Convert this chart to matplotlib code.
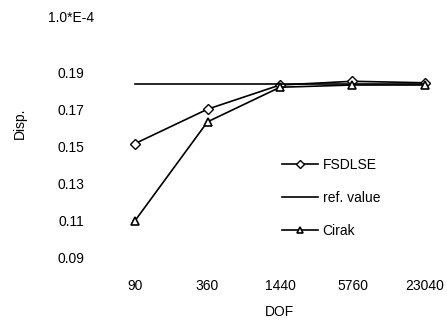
import matplotlib
matplotlib.use("Agg")
import matplotlib.pyplot as plt

# === Data ===
dof = ["90", "360", "1440", "5760", "23040"]
fsdlse = [0.1515, 0.1700, 0.1830, 0.1850, 0.1842]
ref_value = [0.1833, 0.1833, 0.1833, 0.1833, 0.1833]
cirak = [0.1100, 0.1632, 0.1818, 0.1830, 0.1830]
yticks = [0.09, 0.11, 0.13, 0.15, 0.17, 0.19]

# === Styling ===
plt.rcParams.update({
    "font.family": ["Liberation Sans", "DejaVu Sans"],
    "font.size": 10,
})

fig = plt.figure(figsize=(4.47, 3.2), dpi=100)
ax = fig.add_axes([0.2696, 0.194, 0.7136, 0.581])

x = list(range(len(dof)))
ax.plot(x, fsdlse, color="k", lw=1.2, marker="D", markersize=5,
        markerfacecolor="white", markeredgecolor="k", markeredgewidth=1.0,
        label="FSDLSE")
ax.plot(x, ref_value, color="k", lw=1.2, label="ref. value")
ax.plot(x, cirak, color="k", lw=1.2, marker="^", markersize=6,
        markerfacecolor="white", markeredgecolor="k", markeredgewidth=1.2,
        label="Cirak")

ax.set_xlim(-0.2, 4.2)
ax.set_ylim(0.09, 0.19)
ax.set_xticks(x)
ax.set_xticklabels(dof)
ax.set_yticks(yticks)
ax.set_yticklabels([f"{v:.2f}" for v in yticks])
ax.tick_params(axis="both", length=0)
ax.tick_params(axis="y", pad=26)
ax.tick_params(axis="x", pad=15)
for s in ax.spines.values():
    s.set_visible(False)

fig.text(0.107, 0.944, "1.0*E-4", ha="left", va="center", fontsize=10)
fig.text(0.045, 0.615, "Disp.", rotation=90, ha="center", va="center", fontsize=10)
fig.text(0.626, 0.025, "DOF", ha="center", va="center", fontsize=10)

ax.legend(loc="upper left", bbox_to_anchor=(0.63, 0.506),
          bbox_transform=fig.transFigure, frameon=False,
          handlelength=2.6, handletextpad=0.35, labelspacing=1.35,
          markerscale=0.8, borderpad=0, borderaxespad=0)

fig.savefig("out.png", dpi=100)
